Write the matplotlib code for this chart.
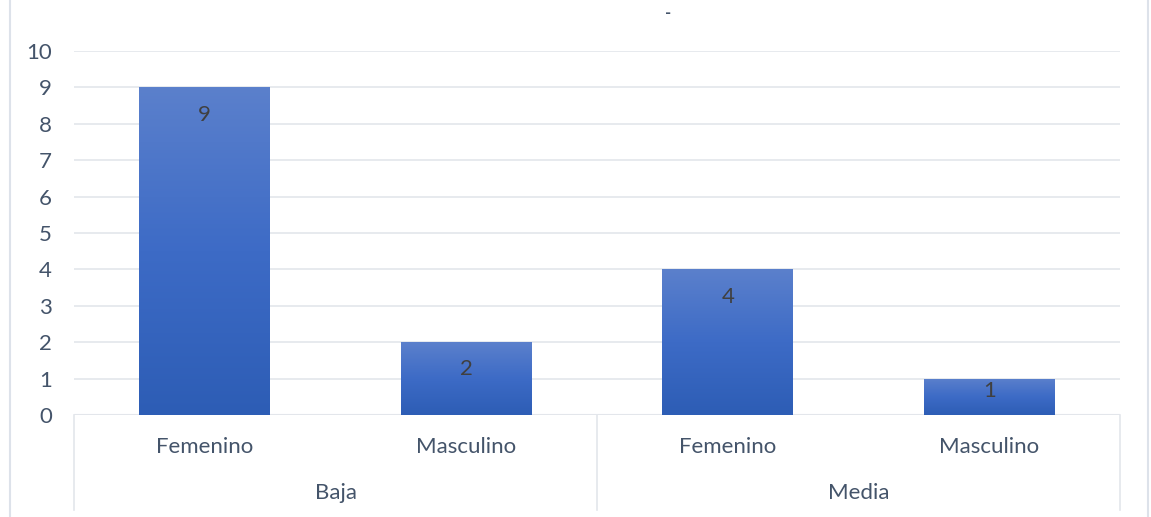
import numpy as np
import matplotlib.pyplot as plt
from matplotlib.colors import LinearSegmentedColormap
from matplotlib.lines import Line2D

# datos
grupos = ['Baja', 'Media']
sexos = ['Femenino', 'Masculino']
valores = [9, 2, 4, 1]
etiquetas = ['Femenino', 'Masculino', 'Femenino', 'Masculino']
yticks = list(range(0, 11))

plt.rcParams['font.family'] = ['Lato', 'DejaVu Sans']
texto = '#44546A'
rejilla = '#E3E6EB'
fs = 16

fig = plt.figure(figsize=(11.51, 5.17), dpi=100)
ax = fig.add_axes([0.0643, 0.1973, 0.9088, 0.7041])

x = np.arange(len(valores))
barras = ax.bar(x, valores, width=0.5, color='none', zorder=3)

# degradado vertical de cada barra
cmap = LinearSegmentedColormap.from_list('azul', ['#2D5DB5', '#3D6BC6', '#5B80CC'])
grad = np.linspace(0, 1, 256).reshape(-1, 1)
for b, v in zip(barras, valores):
    x0 = b.get_x()
    im = ax.imshow(grad, cmap=cmap, origin='lower', aspect='auto',
                   extent=[x0, x0 + b.get_width(), 0, v], zorder=3)
    im.set_clip_path(b)
    ax.text(x0 + b.get_width() / 2, max(v - 0.75, 0.66), str(v), ha='center', va='center',
            fontsize=fs, color='#404040', zorder=4)

ax.set_xlim(-0.5, len(valores) - 0.5)
ax.set_ylim(0, 10)
ax.set_yticks(yticks)
ax.set_xticks([])
ax.grid(axis='y', color=rejilla, linewidth=1.2, zorder=0)
ax.set_axisbelow(True)
for s in ax.spines.values():
    s.set_visible(False)
ax.axhline(0, color=rejilla, linewidth=1.5, zorder=2)
ax.tick_params(axis='y', length=0, pad=16, labelsize=fs, labelcolor=texto)

# eje de categorías con dos niveles
tr = ax.get_xaxis_transform()
for xl in [-0.5, 1.5, 3.5]:
    ax.plot([xl, xl], [0, -0.26], transform=tr, color=rejilla, lw=1.2, clip_on=False)
for xi, et in zip(x, etiquetas):
    ax.text(xi, -0.088, et, transform=tr, ha='center', va='center', fontsize=fs, color=texto)
for i, g in enumerate(grupos):
    ax.text(2 * i + 0.5, -0.214, g, transform=tr, ha='center', va='center', fontsize=fs, color=texto)

# bordes del área del gráfico
for xf in [10 / 1151, 1148 / 1151]:
    fig.add_artist(Line2D([xf, xf], [0, 1], color='#DDE2EA', lw=1.5))

fig.text(668 / 1151, 1 - 13 / 517, '-', ha='center', va='center', fontsize=12,
         color=texto, fontweight='bold')

fig.savefig('out.png', dpi=100)
